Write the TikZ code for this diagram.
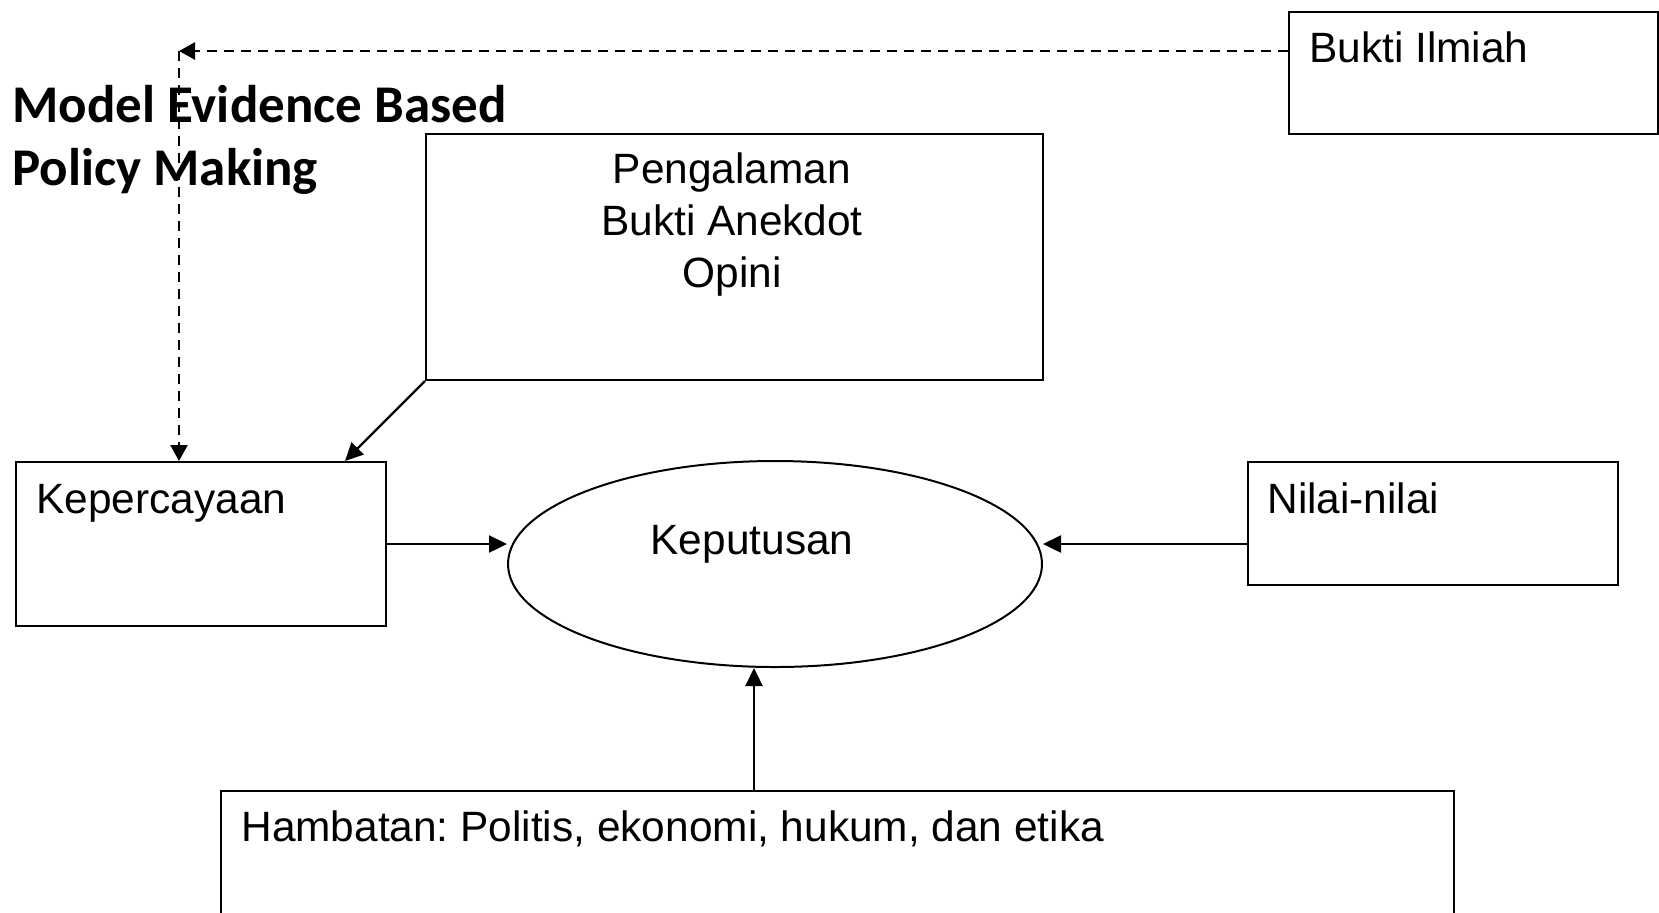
\documentclass[tikz,border=0pt]{standalone}
\usepackage{fontspec}
\setmainfont{Liberation Sans}
\newfontfamily\titlefont{Carlito}
\usetikzlibrary{shapes.geometric,arrows.meta}
\frenchspacing
\begin{document}
\begin{tikzpicture}[x=0.5pt,y=-0.5pt,
  box/.style={draw,line width=1pt,rectangle,inner sep=0pt,anchor=north west},
  lbl/.style={inner sep=0pt,font=\fontsize{21.2pt}{26pt}\selectfont},
  arr/.style={line width=1.2pt,-{Triangle[length=9pt,width=8.5pt]}},
  dsh/.style={line width=1.3pt,dash pattern=on 5pt off 3.5pt,-{Triangle[length=8pt,width=8.5pt]}}]
\clip (0,0) rectangle (1659,912);
% boxes
\node[box,minimum width=184.5pt,minimum height=61pt] (bukti) at (1288,11) {};
\node[box,minimum width=308.5pt,minimum height=123pt] (peng) at (425,133) {};
\node[box,minimum width=185pt,minimum height=82pt] (kep) at (15,461) {};
\node[box,minimum width=185pt,minimum height=61.5pt] (nilai) at (1247,461) {};
\node[box,minimum width=616.5pt,minimum height=120pt] (hamb) at (220,790) {};
\node[draw,ellipse,line width=1pt,inner sep=0pt,minimum width=267pt,minimum height=103pt] (ell) at (775,564) {};
% texts
\node[inner sep=0pt,anchor=base west,align=left,font=\titlefont\bfseries\fontsize{26.5pt}{31.5pt}\selectfont] (title) at (12,185) {Model Evidence Based\\Policy Making};
\node[lbl,anchor=base west] (buktit) at (1309,62) {Bukti Ilmiah};
\node[lbl,anchor=base,align=center] (pengt) at (732,287) {Pengalaman\\Bukti Anekdot\\Opini};
\node[lbl,anchor=base west] (kept) at (36,513) {Kepercayaan};
\node[lbl,anchor=base west] (nilait) at (1267,513) {Nilai-nilai};
\node[lbl,anchor=base] (ellt) at (752,554) {Keputusan};
\node[lbl,anchor=base west] (hambt) at (241,841) {Hambatan: Politis, ekonomi, hukum, dan etika};
% helper coordinates
\coordinate (dy) at (0,51);
\coordinate (corner) at (179,51);
\coordinate (hx) at (754,0);
\coordinate (px) at (345,0);
% connectors
\draw[dsh] (bukti.west |- dy) -- (corner);
\draw[dsh] (corner) -- (kep.north -| corner);
\draw[arr] (peng.south west) -- (kep.north -| px);
\draw[arr] (kep.east) -- (kep.east -| ell.west);
\draw[arr] (nilai.west |- kep.east) -- (kep.east -| ell.east);
\draw[arr] (hamb.north -| hx) -- (ell.south -| hx);
\end{tikzpicture}
\end{document}
